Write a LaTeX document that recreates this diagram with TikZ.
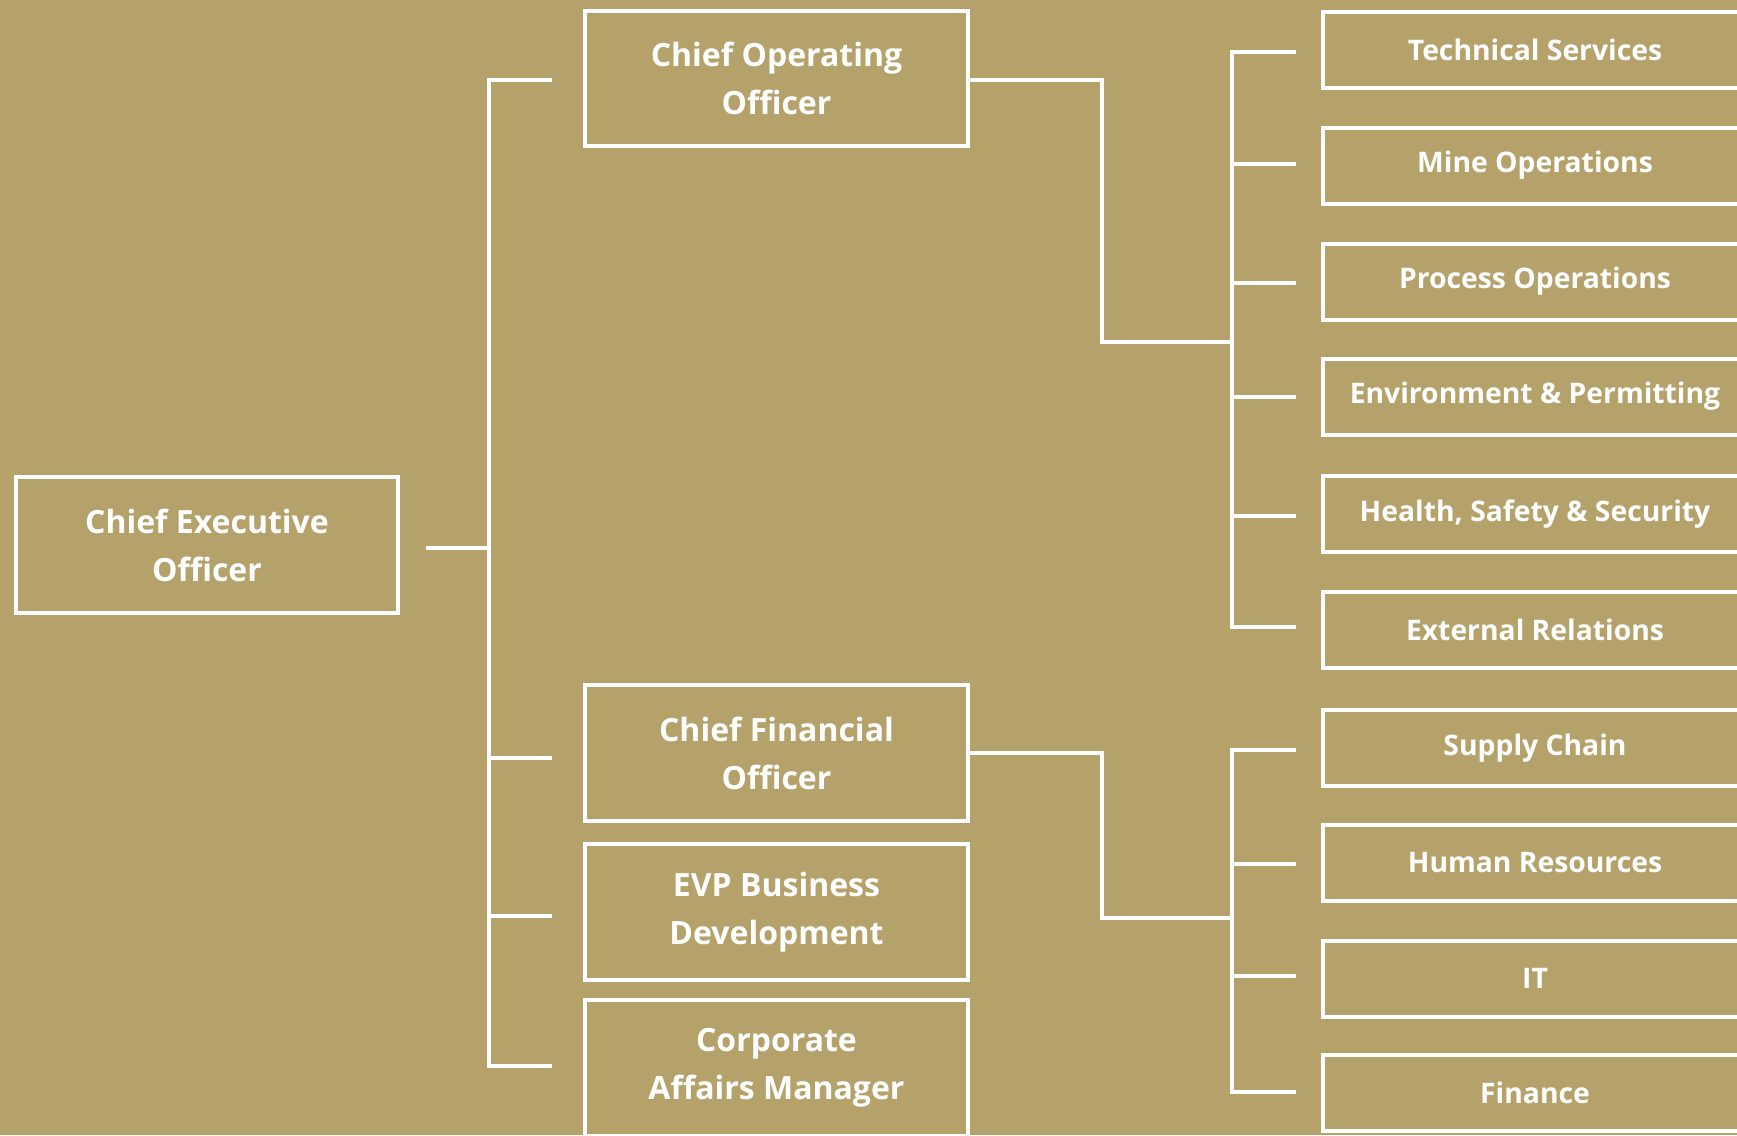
\documentclass[tikz,border=0pt]{standalone}
\usepackage{fontspec}
\setmainfont{Open Sans}
\definecolor{gold}{RGB}{181,162,107}
\begin{document}
\begin{tikzpicture}[x=1pt,y=-1pt,
  box/.style={draw=white, line width=4pt, text=white, align=center,
    font=\bfseries\fontsize{32}{48}\selectfont, inner sep=0pt,
    minimum width=383pt, minimum height=136pt},
  unit/.style={box, font=\bfseries\fontsize{28.3}{32}\selectfont,
    minimum width=424pt, minimum height=76pt},
  link/.style={draw=white, line width=4pt, line join=miter}]
% page and background
\fill[gold] (0,0) rectangle (1737,1135);
\useasboundingbox (0,0) rectangle (1737,1135);

% executive level
\node[box, minimum width=382pt, minimum height=136pt] (ceo) at (207,545) {Chief Executive\\Officer};

% direct reports
\node[box, minimum height=135pt] (coo) at (776.5,78) {Chief Operating\\Officer};
\node[box] (cfo) at (776.5,753) {Chief Financial\\Officer};
\node[box] (evp) at (776.5,912) {EVP Business\\Development};
\node[box] (cam) at (776.5,1068) {Corporate\\Affairs Manager};

% operations functions
\node[unit] (ts)  at (1535,50)    {Technical Services};
\node[unit] (mo)  at (1535,165.5) {Mine Operations};
\node[unit] (po)  at (1535,281.5) {Process Operations};
\node[unit] (ep)  at (1535,396.5) {Environment \& Permitting};
\node[unit] (hss) at (1535,514)   {Health, Safety \& Security};
\node[unit] (er)  at (1535,629.5) {External Relations};

% finance functions
\node[unit] (sc)  at (1535,748)   {Supply Chain};
\node[unit] (hr)  at (1535,863)   {Human Resources};
\node[unit] (it)  at (1535,978.5) {IT};
\node[unit] (fin) at (1535,1093)  {Finance};

% connector end points
\coordinate (ceoOut) at (426,548);
\coordinate (spine)  at (489,548);
\coordinate (cooIn)  at (552,80);
\coordinate (cfoIn)  at (552,758);
\coordinate (evpIn)  at (552,915.5);
\coordinate (camIn)  at (552,1066);

\coordinate (cooOut) at ([yshift=-2pt]coo.east);
\coordinate (opsJoin) at (1232,342);
\coordinate (finJoin) at (1232,918);
\coordinate (tsIn)  at (1296,52);
\coordinate (moIn)  at (1296,164.3);
\coordinate (poIn)  at (1296,282.7);
\coordinate (epIn)  at (1296,397.3);
\coordinate (hssIn) at (1296,516);
\coordinate (erIn)  at (1296,626.7);
\coordinate (scIn)  at (1296,750);
\coordinate (hrIn)  at (1296,864);
\coordinate (itIn)  at (1296,976);
\coordinate (finIn) at (1296,1092);

% CEO to direct reports
\draw[link] (ceoOut) -- (spine);
\draw[link] (cooIn) -- (cooIn -| spine) -- (camIn -| spine) -- (camIn);
\draw[link] (cfoIn -| spine) -- (cfoIn);
\draw[link] (evpIn -| spine) -- (evpIn);

% COO to operations functions
\draw[link] (cooOut) -| (1102,342) -- (opsJoin);
\draw[link] (tsIn) -- (tsIn -| opsJoin) -- (erIn -| opsJoin) -- (erIn);
\foreach \n in {moIn,poIn,epIn,hssIn}
  \draw[link] (\n -| opsJoin) -- (\n);

% CFO to finance functions
\draw[link] (cfo.east) -| (1102,918) -- (finJoin);
\draw[link] (scIn) -- (scIn -| finJoin) -- (finIn -| finJoin) -- (finIn);
\foreach \n in {hrIn,itIn}
  \draw[link] (\n -| finJoin) -- (\n);
\end{tikzpicture}
\end{document}
